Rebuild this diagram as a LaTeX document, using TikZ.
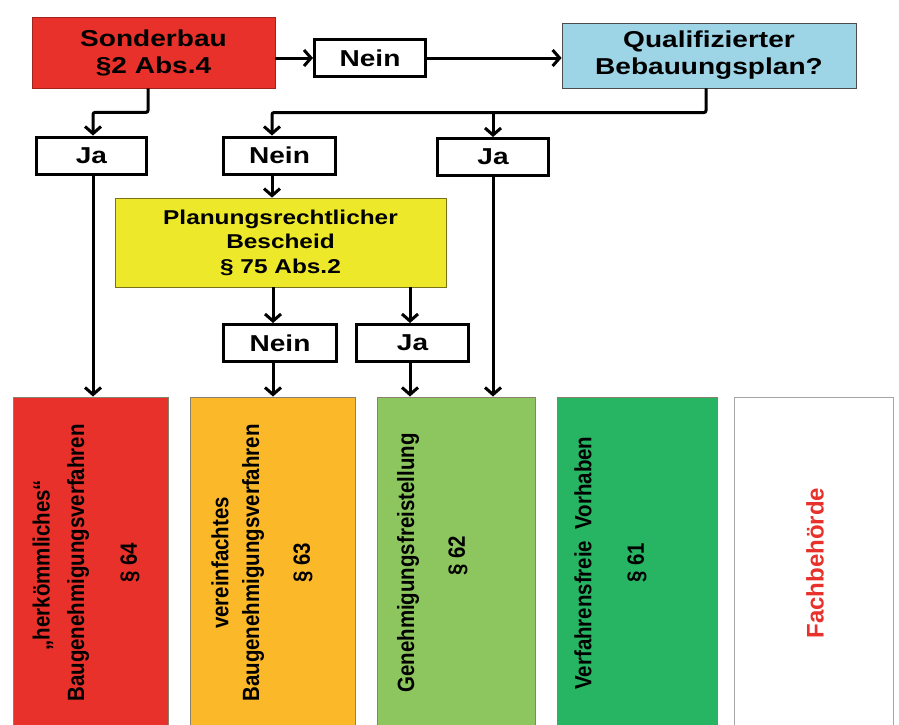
\documentclass[tikz,border=0pt]{standalone}
\usepackage{fontspec}
\setmainfont{Liberation Sans}
\newfontfamily\widefont[FakeStretch=1.22]{Liberation Sans}
\newfontfamily\tallfont[FakeStretch=0.87]{Liberation Sans}
\usetikzlibrary{arrows.meta,calc}
\definecolor{sred}{HTML}{E8312A}
\definecolor{qblue}{HTML}{9DD4E6}
\definecolor{pyellow}{HTML}{EEE82B}
\definecolor{borange}{HTML}{FBB829}
\definecolor{lgreen}{HTML}{8DC65F}
\definecolor{dgreen}{HTML}{27B463}
\definecolor{bframe}{HTML}{8A8070}
\tikzset{
  topbox/.style={draw=#1!70!black, line width=0.8pt, fill=#1, align=center, inner sep=0pt,
    font=\widefont\fontsize{23}{27}\selectfont\bfseries},
  yn/.style={draw=black, line width=3pt, fill=white, inner sep=0pt,
    minimum height=37pt, font=\widefont\fontsize{23}{27}\selectfont\bfseries},
  bigbox/.style={draw=bframe, line width=1pt, fill=#1, minimum height=332pt, inner sep=0pt},
  vtext/.style={rotate=90, inner sep=0pt, font=\tallfont\fontsize{23.5}{25}\selectfont\bfseries},
  conn/.style={draw=black, line width=3pt, rounded corners=2pt,
    -{Straight Barb[length=7pt,width=16pt,line width=3pt]}}
}
\begin{document}
\begin{tikzpicture}[x=1pt,y=-1pt]
\useasboundingbox[fill=white] (0,0) rectangle (899,724);
% top row
\node[topbox=sred, minimum width=243pt, minimum height=71pt] (sb) at (153.5,52.5) {Sonderbau\\§2 Abs.4};
\node[yn, minimum width=111pt] (n1) at (370,58) {Nein};
\node[topbox=qblue, draw=gray!60!black, minimum width=294pt, minimum height=65pt] (qb) at (709,55.5) {Qualifizierter\\Bebauungsplan?};
% second row
\node[yn, minimum width=110pt] (j1) at (91.5,155.5) {Ja};
\node[yn, minimum width=112pt] (n2) at (279.5,155.5) {Nein};
\node[yn, minimum width=111pt] (j2) at (493,157) {Ja};
% Planungsrechtlicher Bescheid
\node[topbox=pyellow, draw=olive!80!black, minimum width=331pt, minimum height=89pt,
  font=\widefont\fontsize{20}{24.5}\selectfont\bfseries] (pb) at (280.5,242.5) {Planungsrechtlicher\\Bescheid\\§ 75 Abs.2};
\node[yn, minimum width=113pt] (n3) at (280,343) {Nein};
\node[yn, minimum width=112pt] (j3) at (412.5,343) {Ja};
% bottom boxes
\node[bigbox=sred, minimum width=155pt] (b1) at (90.5,563) {};
\node[bigbox=borange, minimum width=165pt] (b2) at (272.5,563) {};
\node[bigbox=lgreen, minimum width=158pt] (b3) at (456,563) {};
\node[bigbox=dgreen, minimum width=160pt] (b4) at (637,563) {};
\node[bigbox=white, draw=gray!70, minimum width=159pt] (b5) at (813.5,563) {};
% texts in bottom boxes
\node[vtext] (t1a) at (43,565) {„herkömmliches“};
\node[vtext] (t1b) at (78,563) {Baugenehmigungsverfahren};
\node[vtext] (t1c) at (130,563) {§ 64};
\node[vtext] (t2a) at (220,563) {vereinfachtes};
\node[vtext] (t2b) at (253,563) {Baugenehmigungsverfahren};
\node[vtext] (t2c) at (303,563) {§ 63};
\node[vtext] (t3a) at (408,563) {Genehmigungsfreistellung};
\node[vtext] (t3b) at (458,556) {§ 62};
\node[vtext] (t4a) at (583,563) {Verfahrensfreie\ \ Vorhaben};
\node[vtext] (t4b) at (637,563) {§ 61};
\node[vtext, text=sred, font=\fontsize{24}{26}\selectfont\bfseries] (t5) at (815,563) {Fachbehörde};
% connectors
\draw[conn] (sb.east |- n1.west) -- (n1.west);
\draw[conn] (n1.east) -- (n1.east -| qb.west);
\draw[conn] ([xshift=-5.5pt]sb.south) -- ++(0,24) -| ([xshift=1.5pt]j1.north);
\coordinate (qc) at (706,112.5);
\draw[conn] (qc |- qb.south) -- (qc) -| ([xshift=-7.5pt]n2.north);
\draw[conn] (j2.north |- qc) -- (j2.north);
\draw[conn] ([xshift=-7.5pt]n2.south) -- ([xshift=-7.5pt]n2.south |- pb.north);
\draw[conn] ([xshift=-7pt]n3.north |- pb.south) -- ([xshift=-7pt]n3.north);
\draw[conn] ([xshift=-2.5pt]j3.north |- pb.south) -- ([xshift=-2.5pt]j3.north);
\draw[conn] ([xshift=-7pt]n3.south) -- ([xshift=-7pt]n3.south |- b2.north);
\draw[conn] ([xshift=-2.5pt]j3.south) -- ([xshift=-2.5pt]j3.south |- b3.north);
\draw[conn] ([xshift=1.5pt]j1.south) -- ([xshift=1.5pt]j1.south |- b1.north);
\draw[conn] (j2.south) -- (j2.south |- b3.north);
\end{tikzpicture}
\end{document}
